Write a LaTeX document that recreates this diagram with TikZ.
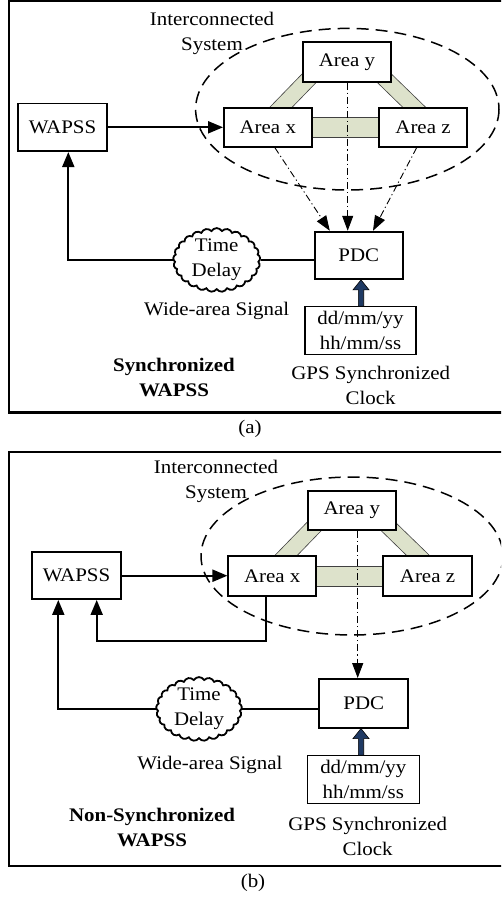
\documentclass[tikz,border=0pt]{standalone}
\usepackage{fontspec}
\setmainfont{Liberation Serif}[FakeStretch=1.09]
\usetikzlibrary{arrows.meta,shapes.symbols,calc}
\definecolor{tiegreen}{HTML}{DDE2CB}
\definecolor{gpsnavy}{HTML}{1F3A64}

\tikzset{
  blockbox/.style={draw, line width=1.8pt, fill=white, inner sep=0pt, align=center},
  panelframe/.style={draw, line width=2.2pt},
  sysring/.style={draw, line width=1.5pt, dash pattern=on 12pt off 7pt},
  tieline/.style={fill=tiegreen, draw=black!75, line width=0.6pt},
  signal/.style={line width=2pt, -{Triangle[length=15pt,width=12pt]}},
  plainsig/.style={line width=2pt},
  measured/.style={line width=0.9pt, dash pattern=on 7pt off 3pt on 1.2pt off 3pt,
    -{Triangle[length=15pt,width=11pt]}},
  gpsarrow/.style={fill=gpsnavy, draw=black, line width=0.6pt},
  delaycloud/.style={cloud, cloud puffs=25, cloud puff arc=120, cloud ignores aspect,
    draw, line width=1.8pt, fill=white, inner sep=0pt, align=center},
  label/.style={align=center, inner sep=0pt},
  boldlabel/.style={align=center, inner sep=0pt, font=\fontsize{19.2}{25}\selectfont\bfseries},
}

\begin{document}
\begin{tikzpicture}[x=1pt, y=-1pt, font=\fontsize{19.2}{25}\selectfont]
\useasboundingbox (0,0) rectangle (501,900);
\clip (0,0) rectangle (501,900);

% ---------------- panel (a): synchronized ----------------
\draw[panelframe] (9,0.8) rectangle (520,412.5);

\draw[sysring] (347.3,109.2) ellipse [x radius=151.7, y radius=80.8];

% tie lines between the areas
\draw[tieline] (313.7,62) -- (336,62) -- (273,127) -- (250.6,127) -- cycle;
\draw[tieline] (356.3,62) -- (379,62) -- (446,127) -- (423,127) -- cycle;
\draw[tieline] (300,117.3) rectangle (390,137.7);

\node[blockbox, minimum width=88.6pt, minimum height=47.7pt] (wapssA) at (62.5,127.3) {WAPSS};
\node[blockbox, minimum width=87.7pt, minimum height=39pt] (areaxA) at (267.8,127.2) {Area x};
\node[blockbox, minimum width=88pt, minimum height=39pt] (areazA) at (423,127.2) {Area z};
\node[blockbox, minimum width=88pt, minimum height=39.4pt] (areayA) at (347,62) {Area y};
\node[blockbox, minimum width=87.7pt, minimum height=47.3pt] (pdcA) at (358.8,255.3) {PDC};
\node[blockbox, line width=1.3pt, minimum width=111pt, minimum height=47.6pt] (clockA) at (360.5,330.5) {dd/mm/yy\\hh/mm/ss};
\node[delaycloud, minimum width=87pt, minimum height=62pt] (cloudA) at (216.7,260) {Time\\Delay};

\node[label] (sysA) at (212,33) {Interconnected\\System};
\node[label] (wideA) at (216.7,310.5) {Wide-area Signal};
\node[boldlabel] (modeA) at (174,377.6) {Synchronized\\WAPSS};
\node[label] (gpsA) at (370.7,385.5) {GPS Synchronized\\Clock};
\node[label] (capA) at (250,429) {(a)};

\draw[signal] (wapssA.east) -- (wapssA.east -| areaxA.west);
\draw[measured] ([xshift=7pt]areaxA.south) -- ([xshift=-29pt]pdcA.north);
\draw[measured] ([xshift=0.7pt]areayA.south) -- ([xshift=-11.1pt]pdcA.north);
\draw[measured] ([xshift=-6.3pt]areazA.south) -- ([xshift=14.2pt]pdcA.north);
\draw[plainsig] (pdcA.west |- cloudA.east) -- (cloudA.east);
\draw[signal] (cloudA.west) -| ([xshift=5.8pt]wapssA.south);

\coordinate (gaA) at ([xshift=0.5pt]clockA.north);
\coordinate (gbA) at (gaA |- pdcA.south);
\filldraw[gpsarrow] ($(gaA)+(-2.7,0)$) -- ($(gbA)+(-2.7,10)$) -- ($(gbA)+(-8,10)$) -- (gbA)
  -- ($(gbA)+(8,10)$) -- ($(gbA)+(2.7,10)$) -- ($(gaA)+(2.7,0)$) -- cycle;

% ---------------- panel (b): non-synchronized ----------------
\draw[panelframe] (9,452) rectangle (520,866);

\draw[sysring] (352,556) ellipse [x radius=151, y radius=79];

\begin{scope}[shift={(4.5,448.8)}]
  \draw[tieline] (313.7,62) -- (336,62) -- (273,127) -- (250.6,127) -- cycle;
  \draw[tieline] (356.3,62) -- (379,62) -- (446,127) -- (423,127) -- cycle;
  \draw[tieline] (300,117.3) rectangle (390,137.7);
\end{scope}

\node[blockbox, minimum width=88.4pt, minimum height=46.7pt] (wapssB) at (76.5,575.7) {WAPSS};
\node[blockbox, minimum width=87.7pt, minimum height=40pt] (areaxB) at (272.2,576) {Area x};
\node[blockbox, minimum width=88.4pt, minimum height=40pt] (areazB) at (427.5,576) {Area z};
\node[blockbox, minimum width=88.3pt, minimum height=39.3pt] (areayB) at (351.8,510.3) {Area y};
\node[blockbox, minimum width=89pt, minimum height=48.7pt] (pdcB) at (363.8,703.3) {PDC};
\node[blockbox, line width=1.3pt, minimum width=112pt, minimum height=47.6pt] (clockB) at (363.3,779.5) {dd/mm/yy\\hh/mm/ss};
\node[delaycloud, minimum width=85.7pt, minimum height=61.7pt] (cloudB) at (199,709) {Time\\Delay};

\node[label] (sysB) at (216,481) {Interconnected\\System};
\node[label] (wideB) at (210,764.5) {Wide-area Signal};
\node[boldlabel] (modeB) at (152,827.6) {Non-Synchronized\\WAPSS};
\node[label] (gpsB) at (367.7,836) {GPS Synchronized\\Clock};
\node[label] (capB) at (253,883.3) {(b)};

\draw[signal] (wapssB.east) -- (wapssB.east -| areaxB.west);
\draw[measured] ([xshift=5.9pt]areayB.south) -- ([xshift=-6.1pt]pdcB.north);
\draw[signal] ([xshift=-6.5pt]areaxB.south) -- ++(0,44) -| ([xshift=20.2pt]wapssB.south);
\draw[plainsig] (pdcB.west |- cloudB.east) -- (cloudB.east);
\draw[signal] (cloudB.west) -| ([xshift=-18.2pt]wapssB.south);

\coordinate (gaB) at ([xshift=-2.3pt]clockB.north);
\coordinate (gbB) at (gaB |- pdcB.south);
\filldraw[gpsarrow] ($(gaB)+(-2.7,0)$) -- ($(gbB)+(-2.7,10)$) -- ($(gbB)+(-8,10)$) -- (gbB)
  -- ($(gbB)+(8,10)$) -- ($(gbB)+(2.7,10)$) -- ($(gaB)+(2.7,0)$) -- cycle;
\end{tikzpicture}
\end{document}
